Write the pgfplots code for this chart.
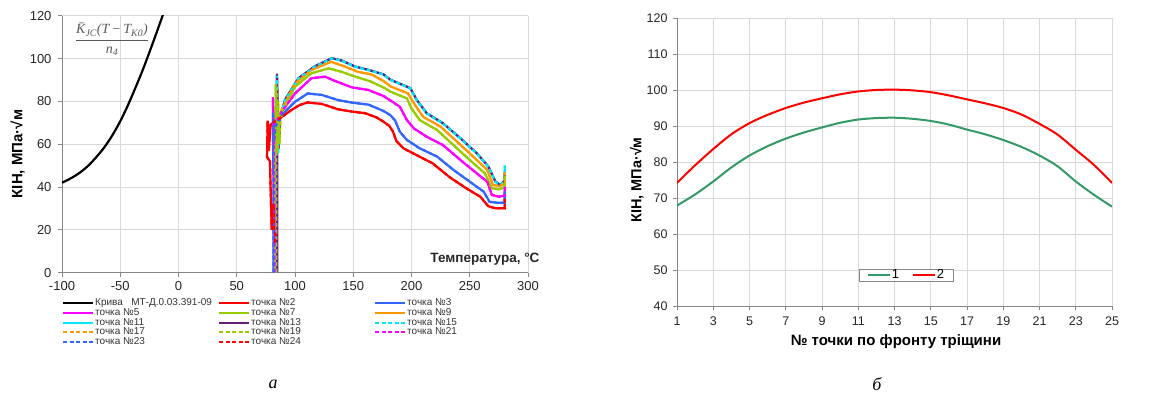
\documentclass[border=0pt]{standalone}
\usepackage{fontspec}
\setmainfont{Liberation Sans}
\newfontfamily\serifit{Liberation Serif}
\usepackage{pgfplots}
\pgfplotsset{compat=1.18}
\usepackage{pgfplotstable}

\definecolor{cRed}{HTML}{FF0000}
\definecolor{cBlue}{HTML}{3366FF}
\definecolor{cMag}{HTML}{FF00FF}
\definecolor{cGrn}{HTML}{99CC00}
\definecolor{cOra}{HTML}{FF9900}
\definecolor{cCya}{HTML}{00E8F8}
\definecolor{cPur}{HTML}{6A1B7A}
\definecolor{cGone}{HTML}{339966}
\definecolor{gridc}{HTML}{D9D9D9}
\definecolor{axc}{HTML}{868686}

\pgfplotstableread{
T K
-100 42.0
-92 44.2
-84.5 46.8
-77 50.2
-70.2 54.2
-64 58.3
-58.8 62.4
-53.5 67.2
-48.8 72.0
-44.5 76.9
-40.2 82.2
-36 87.6
-31.6 93.4
-28 98.5
-24.5 103.6
-21 108.8
-17.3 114.4
-13 121.0
}\tabBlack

\pgfplotstableread{
T K
82.5 14
83.5 17
82 21
82 32
80.5 31
80 20
78.5 52
76 54
76.5 71
77.5 57
79 69
82 70.5
87 72.1
97 76
104 78.3
111 79.5
123 78.8
137 76.3
149 75.2
160 74.5
170 72.5
176 70.5
181 68.5
184 66
187 61.5
193 58.1
204 55
218 51.1
233 44.5
247 39.4
259 35.5
266 31
272 30.1
280 30.1
280 35.5
}\tabA

\pgfplotstableread{
T K
81.5 0
81.5 40
81 75
82 62
83 68
85.5 70.5
88.6 73.6
100 79.8
111 83.7
123 83
137 80.6
149 79.4
163 78.5
176 75.5
182 73.5
186 71
190 65.8
196 62
207 58.1
222 54.2
236 48
250 42.5
262 37.8
267 33.1
273 32.7
280 32.7
280 38
}\tabB

\pgfplotstableread{
T K
82.5 0
82.5 20
82 55
81 82
82 60
83.5 70
86 72.5
88.6 75.2
100 83.7
114 90.8
126 91.5
134 89.6
149 86.5
163 85.3
176 82.5
183 80
190 77.5
196 71.3
202 67.4
213 63.5
227 59.6
242 52.6
256 46.4
265 42.5
269 36.3
275 35.5
280 36
280 41
}\tabC

\pgfplotstableread{
T K
83 0
83 55
83.5 88
84.5 56
85.5 80
86.5 60
87.5 72
90 76.5
100 86.8
114 93.1
129 95.4
140 93.8
152 91.5
164 89.5
176 86.5
182 84.5
196 81.4
200 76.7
207 71.3
222 66.6
236 59.6
250 52.6
263 46.4
269 39.4
275 38.9
280 40
280 46
}\tabD

\pgfplotstableread{
T K
83.5 0
83.5 50
84 86
85 57
86 72
88.5 76
100 88.4
114 94.6
131 98.5
143 96.2
154 93.8
166 92.5
176 89.5
182 87
197 83.7
203 78.3
210 72.8
225 68.2
239 61.2
253 54.2
265 48
270 40.9
276 40.5
280 42
280 47
}\tabE

\pgfplotstableread{
T K
84 0
84 50
84.3 92
85.5 56
86.5 72
89 76
91.4 80.6
103 90.7
117 96.2
131.5 100.1
140 99
151.5 96.2
164 94.5
176 92.5
182 90
199 86.1
204.5 80.6
213 74.4
227 69.7
242 62.7
256 55.7
266 49.5
272 42.5
276 41
280 43
280 50
}\tabF

\pgfplotstableread{
T K
84.8 0
84.8 45
84.6 93
86 58
87 72
89.5 77
91.4 80.8
103 90.9
117 96.4
131.5 100.2
140 99.1
151.5 96.3
164 94.6
176 92.6
182 90.1
199 86.2
204.5 80.7
213 74.5
227 69.8
242 62.8
256 55.8
266 49.6
272 42.6
276 41.1
280 43
280 47
}\tabG

\pgfplotstableread{
N K1 K2
1 67.9 74.2
2 71.0 79.1
3 74.6 83.6
4 78.5 87.7
5 81.8 90.8
6 84.4 93.1
7 86.5 95.0
8 88.2 96.5
9 89.6 97.7
10 90.9 98.8
11 91.8 99.6
12 92.2 100.0
13 92.3 100.1
14 92.0 99.9
15 91.4 99.4
16 90.4 98.5
17 89.0 97.4
18 87.7 96.3
19 86.1 95.0
20 84.2 93.2
21 81.8 90.6
22 78.8 87.6
23 74.6 83.4
24 70.9 79.2
25 67.6 74.2
}\tabRight

\pgfplotsset{
  myaxis/.style={
    scale only axis,
    axis lines=left,
    axis line style={-, axc, line width=0.8pt},
    grid=major,
    grid style={gridc, line width=0.8pt},
    tick style={axc, line width=0.8pt},
    tick align=outside,
    major tick length=4pt,
    every tick label/.append style={text=black!85},
    /pgf/number format/assume math mode=true,
  },
  sol/.style={line width=2.2pt},
  das/.style={line width=2.2pt, dash pattern=on 4pt off 2.5pt},
}

\newcommand{\lgent}[1]{\addlegendentry{\makebox[122pt][l]{#1}}}

\begin{document}
\begin{tikzpicture}
\path[use as bounding box] (0,0) rectangle (1166pt,397pt);

\begin{axis}[myaxis,
  at={(62pt,124.3pt)}, anchor=south west,
  width=466pt, height=257pt,
  xmin=-100, xmax=300, ymin=0, ymax=120,
  xtick={-100,-50,...,300}, ytick={0,20,...,120},
  xticklabel style={font=\fontsize{13}{13}\selectfont, yshift=-1.5pt},
  yticklabel style={font=\fontsize{13}{13}\selectfont, xshift=-3pt},
  ylabel={КІН, МПа·√м},
  ylabel style={at={(axis description cs:-0.0955,0.462)}, anchor=center, font=\bfseries\fontsize{15}{15}\selectfont},
  legend columns=3,
  legend cell align=left,
  legend style={at={(axis description cs:0,-0.1)}, anchor=north west,
    draw=none, fill=none, inner sep=0pt,
    font=\fontsize{10}{10}\selectfont, text=black!80,
    nodes={inner xsep=1pt, inner ysep=0pt, text height=7.2pt, text depth=2.5pt},
    column sep=0pt, row sep=0pt},
  legend image code/.code={\draw[#1, line width=2pt] (0pt,0.3pt) -- (30pt,0.3pt);},
]
\addplot[sol, black, smooth] table[x=T, y=K] {\tabBlack}; \lgent{Крива\ \ \ МТ-Д.0.03.391-09}
\addplot[sol, cRed] table[x=T, y=K] {\tabA}; \lgent{точка №2}
\addplot[sol, cBlue] table[x=T, y=K] {\tabB}; \lgent{точка №3}
\addplot[sol, cMag] table[x=T, y=K] {\tabC}; \lgent{точка №5}
\addplot[sol, cGrn] table[x=T, y=K] {\tabD}; \lgent{точка №7}
\addplot[sol, cOra] table[x=T, y=K] {\tabE}; \lgent{точка №9}
\addplot[sol, cCya] table[x=T, y=K] {\tabF}; \lgent{точка №11}
\addplot[sol, cPur] table[x=T, y=K] {\tabG}; \lgent{точка №13}
\addplot[das, cCya] table[x=T, y=K] {\tabF}; \lgent{точка №15}
\addplot[das, cOra] table[x=T, y=K] {\tabE}; \lgent{точка №17}
\addplot[das, cGrn] table[x=T, y=K] {\tabD}; \lgent{точка №19}
\addplot[das, cMag] table[x=T, y=K] {\tabC}; \lgent{точка №21}
\addplot[das, cBlue] table[x=T, y=K] {\tabB}; \lgent{точка №23}
\addplot[das, cRed] table[x=T, y=K] {\tabA}; \lgent{точка №24}
\end{axis}

\node[anchor=east, font=\bfseries\fontsize{13.5}{13.5}\selectfont, text=black!85] at (543pt,138pt) {Температура, °С};
\node[text=black!65, font=\serifit\fontsize{14}{14}\selectfont, inner sep=0pt] at (112pt,357.5pt)
  {$\displaystyle\frac{\mbox{\itshape\={K}\textsubscript{JC}(T\,−\,T\textsubscript{K0})}}{\mbox{\itshape n\textsubscript{4}}}$};

\begin{axis}[myaxis,
  at={(677pt,91pt)}, anchor=south west,
  width=435pt, height=288pt,
  xmin=1, xmax=25, ymin=40, ymax=120,
  xtick={1,3,...,25}, ytick={40,50,...,120},
  xticklabel style={font=\fontsize{12.5}{12.5}\selectfont, yshift=-3pt},
  yticklabel style={font=\fontsize{12.5}{12.5}\selectfont, xshift=-2pt},
  xlabel={№ точки по фронту тріщини},
  xlabel style={at={(axis description cs:0.5034,-0.124)}, anchor=center, font=\bfseries\fontsize{15}{15}\selectfont},
  ylabel={КІН, МПа·√м},
  ylabel style={at={(axis description cs:-0.0926,0.4375)}, anchor=center, font=\bfseries\fontsize{14.5}{14.5}\selectfont},
  legend columns=2,
  legend style={at={(axis description cs:0.5264,0.1076)}, anchor=center,
    draw=axc, fill=white, font=\fontsize{13}{13}\selectfont,
    inner xsep=8pt, inner ysep=0.5pt,
    nodes={inner xsep=1pt, inner ysep=0.3pt},
    /tikz/every even column/.append style={column sep=12pt}},
  legend image code/.code={\draw[#1] (0pt,0pt) -- (22pt,0pt);},
]
\addplot[line width=2pt, cGone, smooth] table[x=N, y=K1] {\tabRight}; \addlegendentry{1}
\addplot[line width=2pt, cRed, smooth] table[x=N, y=K2] {\tabRight}; \addlegendentry{2}
\end{axis}

\node[font=\serifit\itshape\fontsize{18}{18}\selectfont] at (273pt,13pt) {а};
\node[font=\serifit\itshape\fontsize{18}{18}\selectfont] at (877pt,13pt) {б};
\end{tikzpicture}
\end{document}
